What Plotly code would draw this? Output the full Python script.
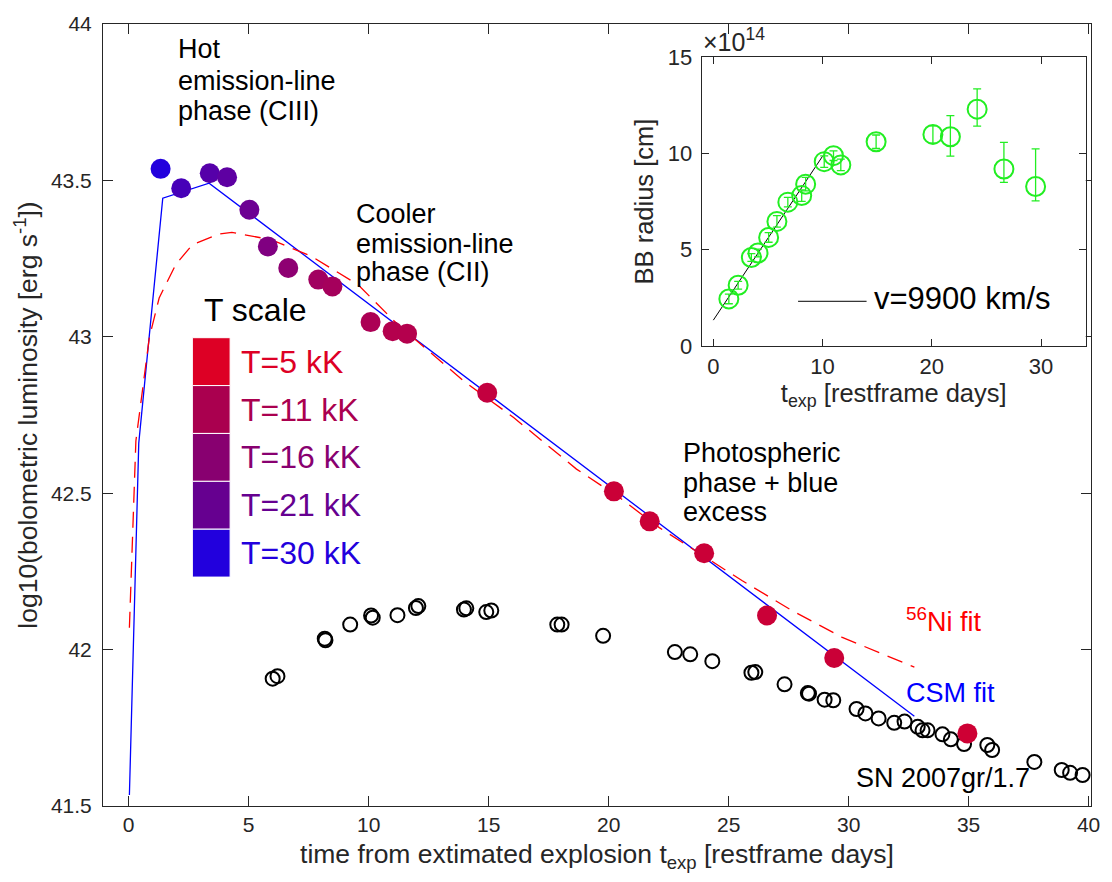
import plotly.graph_objects as go

# ---------------- data ----------------
# SN bolometric light curve (coloured by blackbody temperature, kK)
t_sn = [1.33, 2.19, 3.38, 4.10, 5.03, 5.80, 6.65, 7.90, 8.49, 10.08, 11.00, 11.60,
        14.94, 20.22, 21.71, 23.98, 26.60, 29.40, 34.95]
L_sn = [43.537, 43.475, 43.523, 43.510, 43.406, 43.289, 43.220, 43.183, 43.161, 43.047,
        43.018, 43.010, 42.821, 42.506, 42.410, 42.308, 42.109, 41.973, 41.732]
T_sn = [30, 25, 23, 22, 20, 17.5, 15.5, 13, 12.5, 11.5, 10.5, 10.5, 8.5, 7.5, 7.5, 7.5,
        7.5, 7.5, 7]

# SN 2007gr / 1.7 comparison
t_gr = [6.0, 6.2, 8.17, 8.2, 9.23, 10.1, 10.17, 11.2, 11.97, 12.07, 13.97, 14.07, 14.9, 15.11,
        17.86, 18.04, 19.77, 22.76, 23.4, 24.32, 25.95, 26.11, 27.33, 28.3, 28.35, 29.0, 29.36,
        30.33, 30.7, 31.25, 31.9, 32.33, 32.88, 33.08, 33.29, 33.91, 34.26, 34.81, 35.78, 35.98,
        37.74, 38.88, 39.23, 39.75]
L_gr = [41.907, 41.915, 42.035, 42.03, 42.08, 42.109, 42.102, 42.11, 42.133, 42.139, 42.128,
        42.132, 42.12, 42.125, 42.08, 42.08, 42.044, 41.992, 41.985, 41.963, 41.926, 41.928,
        41.889, 41.861, 41.859, 41.84, 41.838, 41.81, 41.796, 41.78, 41.766, 41.77, 41.753,
        41.742, 41.742, 41.729, 41.713, 41.698, 41.695, 41.679, 41.641, 41.615, 41.606, 41.599]

# CSM model fit
t_csm = [0.03, 0.42, 1.42, 3.35, 32.74]
L_csm = [41.535, 42.66, 43.443, 43.491, 41.787]

# 56Ni model fit
t_ni = [0.03, 0.30, 0.86, 1.27, 1.96, 2.65, 3.75, 4.30, 5.96, 7.62, 9.55, 11.2, 13.97,
        16.04, 18.66, 20.45, 22.11, 24.05, 25.57, 27.64, 29.71, 32.74]
L_ni = [42.07, 42.667, 42.997, 43.124, 43.231, 43.294, 43.328, 43.334, 43.31, 43.257,
        43.167, 43.04, 42.858, 42.742, 42.577, 42.486, 42.39, 42.295, 42.22, 42.125,
        42.04, 41.944]

# Temperature legend
legend_T = [5, 11, 16, 21, 30]
legend_labels = ["T=5 kK", "T=11 kK", "T=16 kK", "T=21 kK", "T=30 kK"]
legend_colors = ["#DD0025", "#AA004F", "#880070", "#660090", "#2200DD"]

# Inset: blackbody radius (1e14 cm)
t_bb = [1.42, 2.27, 3.48, 4.09, 5.06, 5.82, 6.82, 8.09, 8.45, 10.15, 11.0, 11.67, 14.9,
        20.1, 21.7, 24.15, 26.6, 29.5]
R_bb = [2.45, 3.16, 4.6, 4.83, 5.64, 6.47, 7.47, 7.81, 8.4, 9.57, 9.88, 9.4, 10.6,
        10.98, 10.86, 12.29, 9.19, 8.28]
R_err_plus = [0.25, 0.2, 0.2, 0.2, 0.25, 0.3, 0.25, 0.3, 0.35, 0.3, 0.25, 0.3, 0.35,
              0.45, 1.1, 1.05, 1.38, 1.95]
R_err_minus = [0.25, 0.2, 0.2, 0.2, 0.25, 0.3, 0.25, 0.3, 0.35, 0.3, 0.25, 0.3, 0.35,
               0.45, 1.0, 0.88, 0.7, 0.75]
t_vfit = [0.0, 10.0]
R_vfit = [1.35, 9.85]

# ---------------- layout helpers ----------------
W, H = 1112, 882
L_PX, R_PX, T_PX, B_PX = 103, 1098, 22, 806


def px(x):
    return (x - L_PX) / (R_PX - L_PX)


def py(y):
    return (B_PX - y) / (B_PX - T_PX)


FONT = "Liberation Sans, Arial, Helvetica, sans-serif"
AX = "#262626"
T_COLORSCALE = [[0, "#DD0025"], [1, "#2200DD"]]

fig = go.Figure()

fig.add_trace(go.Scatter(x=t_csm, y=L_csm, mode="lines",
                         line=dict(color="#0000FF", width=1.3), showlegend=False))
fig.add_trace(go.Scatter(x=t_ni, y=L_ni, mode="lines",
                         line=dict(color="#FF0000", width=1.3, dash="16px,9px"),
                         showlegend=False))
fig.add_trace(go.Scatter(x=t_gr, y=L_gr, mode="markers",
                         marker=dict(symbol="circle-open", size=14, color="black",
                                     line=dict(width=2)), showlegend=False))
fig.add_trace(go.Scatter(x=t_sn, y=L_sn, mode="markers",
                         marker=dict(size=20, color=T_sn, colorscale=T_COLORSCALE,
                                     cmin=5, cmax=30, line=dict(width=0)),
                         showlegend=False))

# inset
fig.add_trace(go.Scatter(x=t_vfit, y=R_vfit, mode="lines", xaxis="x2", yaxis="y2",
                         line=dict(color="black", width=1), showlegend=False))
fig.add_trace(go.Scatter(x=t_bb, y=R_bb, mode="markers", xaxis="x2", yaxis="y2",
                         marker=dict(symbol="circle-open", size=19, color="#22EE22",
                                     line=dict(width=2)),
                         error_y=dict(type="data", symmetric=False, array=R_err_plus,
                                      arrayminus=R_err_minus, color="#22EE22",
                                      thickness=1.3, width=4),
                         showlegend=False))

axis_common = dict(showline=True, linecolor=AX, linewidth=1, mirror="ticks",
                   ticks="inside", tickcolor=AX, showgrid=False, zeroline=False,
                   tickfont=dict(family=FONT, size=21, color=AX))

fig.update_layout(
    width=W, height=H,
    margin=dict(l=L_PX, r=W - R_PX, t=T_PX, b=H - B_PX),
    paper_bgcolor="white", plot_bgcolor="white",
    font=dict(family=FONT, color=AX),
    xaxis=dict(axis_common, range=[-1.07, 40.1], tickvals=[0, 5, 10, 15, 20, 25, 30, 35, 40],
               ticklen=10, domain=[0, 1],
               title=dict(text="time from extimated explosion t<sub>exp</sub> [restframe days]",
                          font=dict(family=FONT, size=26.5, color=AX), standoff=9)),
    yaxis=dict(axis_common, range=[41.5, 44], tickvals=[41.5, 42, 42.5, 43, 43.5, 44],
               ticklen=10, domain=[0, 1], ticklabelstandoff=6,
               title=dict(text="log10(bolometric luminosity [erg s<sup>-1</sup>])",
                          font=dict(family=FONT, size=26.5, color=AX), standoff=5)),
    xaxis2=dict(axis_common, range=[-1.06, 34.09], tickvals=[0, 10, 20, 30], ticklen=7,
                domain=[px(706), px(1092.7)], anchor="y2",
                tickfont=dict(family=FONT, size=22, color=AX),
                title=dict(text="t<sub>exp</sub> [restframe days]",
                           font=dict(family=FONT, size=25.5, color=AX), standoff=4)),
    yaxis2=dict(axis_common, range=[0, 15], tickvals=[0, 5, 10, 15], ticklen=7,
                domain=[py(345), py(55)], anchor="x2", ticklabelstandoff=4,
                tickfont=dict(family=FONT, size=22, color=AX),
                title=dict(text="BB radius [cm]",
                           font=dict(family=FONT, size=25.5, color=AX), standoff=6)),
)

# white background for inset
fig.add_shape(type="rect", xref="paper", yref="paper", x0=px(706), x1=px(1092.7),
              y0=py(345), y1=py(55), fillcolor="white", line=dict(width=0), layer="below")

annotations = []


def note(text, x, y, size=27, color="black", xanchor="left"):
    annotations.append(dict(text=text, x=px(x), y=py(y), xref="paper", yref="paper",
                            xanchor=xanchor, yanchor="middle", showarrow=False, align="left",
                            font=dict(family=FONT, size=size, color=color)))


def block(lines, x, centers, size=27, color="black"):
    for ln, c in zip(lines, centers):
        note(ln, x, c, size=size, color=color)


block(["Hot", "emission-line", "phase (CIII)"], 177, [47.5, 79, 109])
block(["Cooler", "emission-line", "phase (CII)"], 356, [212.5, 242.5, 271])
block(["Photospheric", "phase + blue", "excess"], 685, [452.5, 482.5, 511])
note("<sup>56</sup>Ni fit", 910, 620, color="#FF0000")
note("CSM fit", 910, 693, color="#0000FF")
note("SN 2007gr/1.7", 859, 778, color="black")
note("T scale", 203, 309, size=32)

# T scale legend patches
patch_top = 336.5
patch_h = 48.0
for i, (lab, col) in enumerate(zip(legend_labels, legend_colors)):
    y0 = patch_top + i * patch_h
    fig.add_shape(type="rect", xref="paper", yref="paper",
                  x0=px(193), x1=px(231), y0=py(y0 + patch_h), y1=py(y0),
                  fillcolor=col, line=dict(color="white", width=1))
    note(lab, 240, y0 + patch_h / 2, size=32, color=col)

# inset legend: velocity fit
fig.add_shape(type="line", xref="paper", yref="paper", x0=px(803), x1=px(872),
              y0=py(300), y1=py(300), line=dict(color="black", width=1))
note("v=9900 km/s", 877, 297, size=31)
note("\u00d710<sup>14</sup>", 705, 38, size=25, color=AX)

fig.update_layout(annotations=annotations)

fig.write_html("out.html")
